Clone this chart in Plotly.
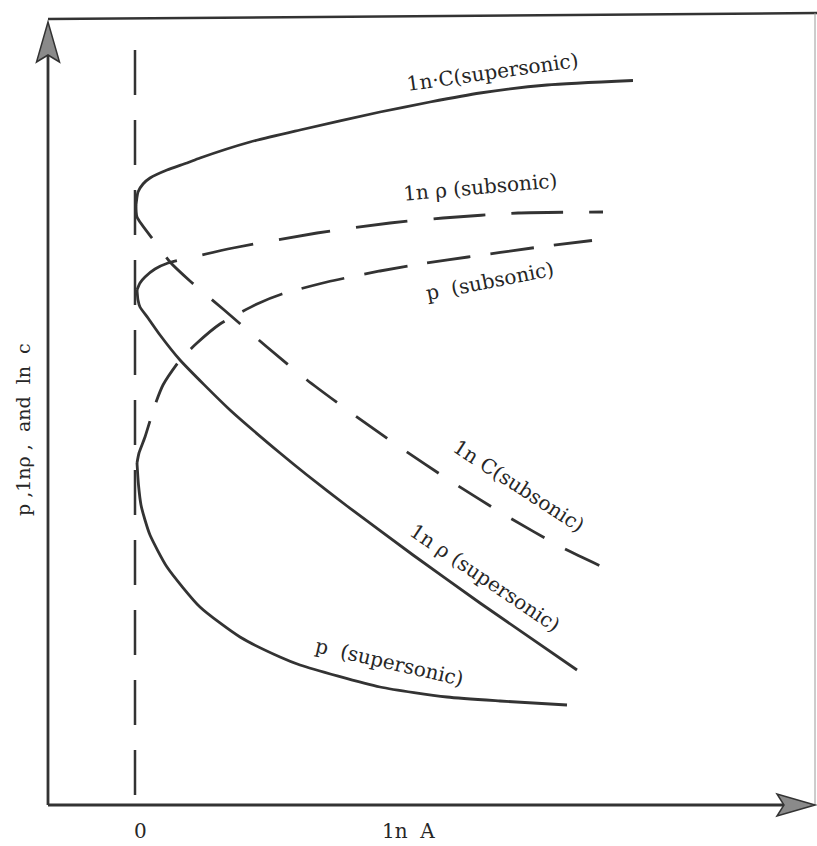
import plotly.graph_objects as go

# ln A on the horizontal axis (0 = throat, M = 1), property value on the vertical axis
lnC_sup_x = [0.01, 0.02, 0.03, 0.08, 0.15, 0.32, 0.52, 0.65, 1.15, 1.65, 2.45, 2.95, 3.45, 4.12, 4.98]
lnC_sup_y = [6.00, 6.08, 6.13, 6.21, 6.27, 6.35, 6.42, 6.47, 6.63, 6.75, 6.93, 7.03, 7.12, 7.20, 7.245]

lnC_sub_x = [0.01, 0.02, 0.20, 0.35, 0.55, 0.88, 1.32, 1.72, 2.15, 2.63, 3.17, 3.70, 4.28, 4.72]
lnC_sub_y = [6.00, 5.88, 5.63, 5.43, 5.24, 4.96, 4.58, 4.25, 3.93, 3.59, 3.23, 2.90, 2.57, 2.36]

lnrho_sub_x = [0.02, 0.05, 0.10, 0.20, 0.33, 0.62, 0.98, 1.82, 2.55, 3.08, 3.83, 4.68]
lnrho_sub_y = [5.15, 5.22, 5.28, 5.36, 5.42, 5.49, 5.57, 5.72, 5.82, 5.87, 5.92, 5.93]

lnrho_sup_x = [0.02, 0.03, 0.05, 0.13, 0.25, 0.45, 0.95, 1.45, 1.72, 2.12, 2.78, 3.45, 4.42]
lnrho_sup_y = [5.15, 5.05, 4.98, 4.87, 4.70, 4.45, 3.95, 3.52, 3.30, 2.99, 2.50, 2.02, 1.35]

p_sub_x = [0.02, 0.04, 0.10, 0.20, 0.28, 0.45, 0.62, 0.85, 1.22, 1.47, 1.92, 2.45, 2.92, 3.33, 3.97, 4.57]
p_sub_y = [3.42, 3.52, 3.68, 4.00, 4.20, 4.45, 4.62, 4.81, 5.01, 5.11, 5.23, 5.34, 5.42, 5.48, 5.57, 5.645]

p_sup_x = [0.02, 0.035, 0.06, 0.10, 0.15, 0.32, 0.65, 1.05, 1.45, 1.65, 2.45, 3.12, 3.65, 4.32]
p_sup_y = [3.42, 3.20, 3.00, 2.85, 2.70, 2.38, 1.98, 1.68, 1.48, 1.40, 1.18, 1.08, 1.04, 1.00]

# curve captions: text, anchor (x, y), rotation in degrees
captions = [
    ("1n·C(supersonic)", 3.57, 7.33, -8),
    ("1n ρ (subsonic)", 3.45, 6.18, -5),
    ("p  (subsonic)", 3.55, 5.24, -11),
    ("1n C(subsonic)", 3.84, 3.19, 33),
    ("1n ρ (supersonic)", 3.50, 2.27, 34),
    ("p  (supersonic)", 2.54, 1.43, 13),
]

INK = "#333333"
SERIF = "DejaVu Serif"

fig = go.Figure()


def curve(x, y, dash):
    fig.add_trace(go.Scatter(
        x=x, y=y, mode="lines",
        line=dict(color=INK, width=2.8, dash=dash, shape="spline", smoothing=0.6),
        hoverinfo="skip", showlegend=False,
    ))


curve(lnC_sup_x, lnC_sup_y, "solid")
curve(lnC_sub_x, lnC_sub_y, "38px,24px")
curve(lnrho_sub_x, lnrho_sub_y, "52px,26px")
curve(lnrho_sup_x, lnrho_sup_y, "solid")
curve(p_sub_x, p_sub_y, "44px,20px")
curve(p_sup_x, p_sup_y, "solid")

# sonic line ln A = 0
fig.add_trace(go.Scatter(
    x=[0, 0], y=[7.55, 0], mode="lines",
    line=dict(color=INK, width=2.5, dash="45px,25px"),
    hoverinfo="skip", showlegend=False,
))

X_AX = -0.87   # position of the vertical axis
X_END = 6.80   # tip of the horizontal axis
Y_TOP = 7.83   # tip of the vertical axis

shapes = [
    # axes
    dict(type="line", x0=X_AX, y0=0, x1=X_AX, y1=Y_TOP - 0.2, line=dict(color=INK, width=2.8)),
    dict(type="line", x0=X_AX, y0=0, x1=X_END - 0.2, y1=0, line=dict(color=INK, width=2.8)),
    # frame
    dict(type="line", x0=X_AX, y0=7.86, x1=6.82, y1=7.92, line=dict(color=INK, width=2.5)),
    dict(type="line", x0=6.80, y0=0, x1=6.80, y1=7.92, line=dict(color="#9a9a9a", width=1)),
    # arrow heads
    dict(type="path",
         path=f"M {X_AX} {Y_TOP} L {X_AX - 0.115} {Y_TOP - 0.40} L {X_AX} {Y_TOP - 0.33} L {X_AX + 0.115} {Y_TOP - 0.40} Z",
         fillcolor="#8a8a8a", line=dict(color=INK, width=1.5)),
    dict(type="path",
         path=f"M {X_END} 0 L {X_END - 0.38} 0.11 L {X_END - 0.31} 0 L {X_END - 0.38} -0.11 Z",
         fillcolor="#8a8a8a", line=dict(color=INK, width=1.5)),
]

annotations = []
for text, ax, ay, ang in captions:
    annotations.append(dict(
        x=ax, y=ay, text=text, showarrow=False, textangle=ang,
        font=dict(family=SERIF, size=20, color="#262626"),
    ))

annotations += [
    dict(x=0.05, y=-0.26, text="0", showarrow=False,
         font=dict(family=SERIF, size=20, color="#262626")),
    dict(x=2.73, y=-0.26, text="1n  A", showarrow=False,
         font=dict(family=SERIF, size=20, color="#262626")),
    dict(x=-1.12, y=3.75, text="p ,1nρ ,  and  ln  c", showarrow=False, textangle=-90,
         font=dict(family=SERIF, size=19, color="#262626")),
]

fig.update_layout(
    width=817, height=846, autosize=False,
    margin=dict(l=0, r=0, t=0, b=0),
    paper_bgcolor="white", plot_bgcolor="white",
    xaxis=dict(range=[-1.35, 6.82], visible=False, fixedrange=True),
    yaxis=dict(range=[-0.41, 8.05], visible=False, fixedrange=True),
    shapes=shapes, annotations=annotations,
    showlegend=False,
)

fig.write_html("out.html")
